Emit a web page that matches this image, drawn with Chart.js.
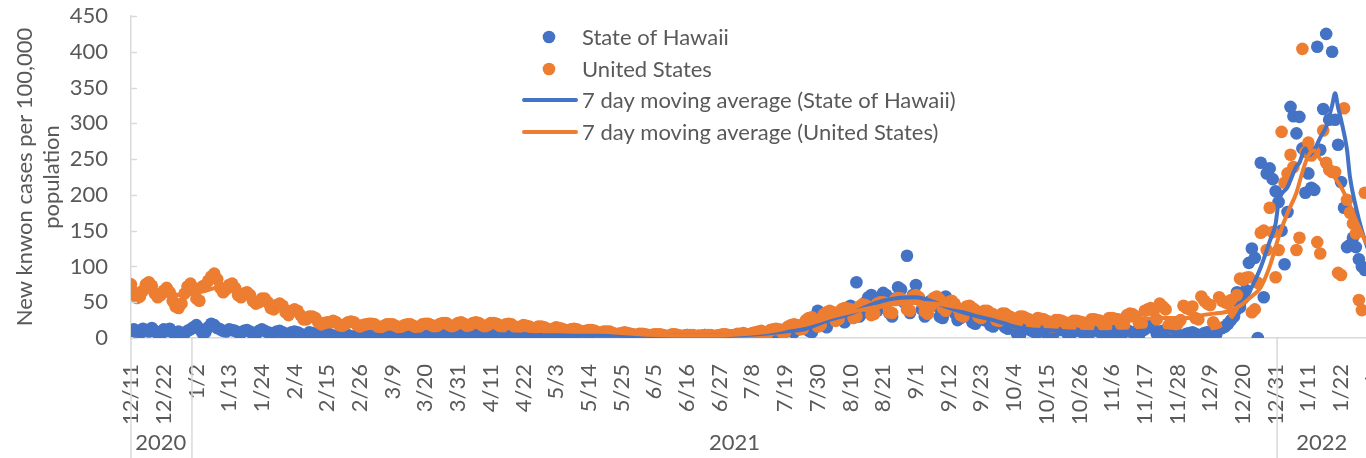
<!DOCTYPE html>
<html>
<head>
<meta charset="utf-8">
<script src="https://cdn.jsdelivr.net/npm/chart.js@4.4.0/dist/chart.umd.min.js"></script>
<style>
  html, body { margin: 0; padding: 0; background: #fff; overflow: hidden; }
  #wrap { position: relative; width: 1386px; height: 458px; }
</style>
</head>
<body>
<div id="wrap"><canvas id="casesChart"></canvas></div>
<script>
/* ── data: day 0 = 12/11/2020, one value per day ── */
const startDate = '2020-12-11';

const hawaiiDaily = [
  10, 12, 8, 6, 13, 11, 9, 14, 10, 6, 5,
  12, 10, 13, 8, 6, 9, 5, 6, 10, 12, 15,
  18, 13, 7, 8, 15, 20, 18, 14, 12, 10, 9,
  12, 11, 10, 8, 7, 10, 11, 9, 6, 5, 10,
  12, 10, 8, 7, 5, 9, 10, 8, 6, 4, 8,
  9, 8, 6, 3, 4, 8, 7, 6, 3, 2, 5,
  6, 5, 3, 2, 4, 5, 5, 4, 2, 2, 4,
  5, 5, 4, 3, 3, 5, 5, 4, 3, 2, 4,
  5, 5, 4, 3, 3, 5, 5, 5, 3, 2, 4,
  6, 6, 5, 4, 4, 6, 7, 6, 4, 3, 6,
  7, 6, 5, 4, 4, 6, 7, 6, 4, 3, 6,
  6, 6, 5, 3, 4, 6, 6, 5, 3, 3, 5,
  5, 6, 4, 3, 3, 5, 5, 4, 3, 2, 4,
  5, 4, 3, 2, 3, 4, 4, 4, 2, 2, 3,
  4, 4, 3, 2, 2, 3, 4, 3, 2, 1, 3,
  3, 3, 2, 1, 2, 3, 3, 3, 2, 1, 3,
  3, 3, 2, 2, 2, 3, 4, 3, 2, 2, 3,
  4, 3, 2, 2, 3, 3, 4, 3, 2, 2, 3,
  3, 4, 2, 2, 3, 4, 5, 4, 3, 3, 5,
  6, 6, 4, 4, 7, 8, 9, 8, 5, 5, 10,
  12, 13, 10, 8, 15, 17, 18, 16, 10, 8, 20,
  38, 30, 20, 15, 28, 30, 35, 33, 25, 22, 38,
  45, 40, 78, 30, 35, 50, 57, 60, 45, 38, 55,
  63, 60, 35, 30, 55, 71, 68, 50, 115, 35, 60,
  74, 55, 40, 30, 45, 52, 50, 45, 30, 28, 58,
  45, 50, 35, 25, 28, 38, 40, 35, 22, 20, 30,
  28, 25, 30, 18, 16, 22, 25, 20, 15, 13, 18,
  18, 6, 4, 15, 14, 12, 10, 8, 8, 10, 11,
  6, 3, 3, 12, 11, 12, 10, 6, 5, 9, 11,
  10, 8, 5, 3, 10, 12, 10, 8, 5, 4, 9,
  10, 8, 6, 3, 10, 11, 9, 8, 4, 3, 10,
  12, 16, 18, 14, 6, 4, 10, 8, 2, 3, 5,
  5, 3, 2, 6, 7, 8, 6, 4, 3, 7, 8,
  9, 6, 5, 12, 14, 16, 20, 25, 30, 64, 43,
  55, 67, 105, 125, 112, 0, 245, 57, 230, 237, 222,
  205, 190, 150, 103, 176, 323, 310, 286, 309, 265, 203,
  230, 210, 207, 407, 263, 320, 425, 305, 400, 305, 270,
  218, 182, 127, 130, 140, 127, 110, 100, 95
];

const usDaily = [
  75, 64, 56, 58, 66, 75, 78, 73, 62, 57, 60,
  66, 70, 64, 52, 44, 42, 48, 62, 72, 76, 70,
  55, 52, 72, 74, 80, 86, 90, 82, 70, 64, 68,
  74, 76, 70, 60, 57, 62, 64, 60, 52, 48, 50,
  55, 55, 50, 42, 40, 46, 48, 45, 36, 32, 38,
  40, 38, 32, 26, 26, 30, 30, 28, 22, 19, 21,
  22, 22, 24, 22, 18, 17, 19, 22, 23, 22, 18,
  16, 18, 19, 20, 20, 19, 16, 15, 17, 19, 19,
  19, 17, 15, 16, 18, 19, 19, 17, 15, 16, 19,
  20, 20, 18, 16, 17, 20, 21, 21, 18, 16, 18,
  21, 22, 20, 17, 18, 21, 22, 21, 18, 16, 18,
  21, 21, 20, 17, 16, 19, 20, 19, 16, 14, 16,
  18, 17, 16, 14, 13, 16, 16, 15, 13, 11, 13,
  15, 14, 13, 11, 10, 12, 13, 12, 10, 9, 10,
  11, 11, 10, 8, 7, 9, 9, 9, 7, 6, 6,
  7, 8, 7, 6, 5, 4, 6, 6, 5, 4, 4,
  5, 5, 5, 4, 3, 3, 5, 5, 4, 3, 3,
  4, 4, 4, 3, 3, 3, 4, 4, 4, 3, 3,
  4, 5, 5, 4, 3, 3, 6, 6, 7, 4, 4,
  7, 8, 9, 10, 6, 6, 11, 12, 13, 12, 8,
  8, 16, 18, 19, 18, 12, 13, 25, 28, 29, 26,
  16, 18, 33, 36, 38, 36, 24, 26, 40, 42, 41,
  40, 28, 30, 44, 47, 46, 44, 32, 34, 48, 50,
  50, 48, 36, 35, 54, 56, 55, 52, 40, 38, 58,
  60, 57, 50, 37, 34, 45, 56, 58, 54, 42, 38,
  50, 52, 48, 42, 32, 30, 44, 45, 42, 39, 30,
  28, 38, 38, 35, 33, 25, 24, 34, 34, 31, 29,
  22, 21, 30, 30, 28, 26, 20, 19, 28, 27, 26,
  24, 17, 16, 25, 25, 24, 22, 17, 16, 24, 24,
  23, 22, 17, 16, 26, 26, 25, 24, 18, 16, 28,
  28, 27, 26, 19, 18, 32, 34, 33, 30, 21, 20,
  38, 40, 42, 38, 26, 48, 44, 40, 18, 14, 22,
  20, 25, 45, 42, 40, 44, 28, 26, 58, 52, 48,
  46, 22, 16, 57, 52, 50, 48, 53, 35, 60, 83,
  81, 84, 85, 36, 40, 77, 147, 150, 123, 182, 148,
  85, 123, 288, 217, 230, 256, 239, 123, 140, 404, 260,
  273, 255, 260, 134, 118, 290, 245, 235, 232, 232, 91,
  88, 321, 193, 175, 160, 146, 53, 39, 203
];

// 7 day moving averages at these days
const maHawaiiDays = [3, 10, 17, 24, 31, 38, 45, 52, 59, 66, 73, 80, 87, 94, 101, 108, 115, 122, 129, 136,
  143, 150, 157, 164, 171, 178, 185, 192, 199, 206, 213, 220, 227, 234, 242, 248, 253, 258, 264, 269,
  274, 279, 284, 289, 294, 298, 303, 309, 316, 326, 336, 343, 349, 354, 360, 364, 366, 368, 370, 372,
  374, 376, 378, 380, 383, 385, 386, 389, 392, 393, 395, 396, 398, 400, 402, 404, 405, 406, 407, 409,
  410, 412, 414, 416, 418];
const maHawaii = [10, 9, 9, 12, 14, 10, 9, 8, 6, 4, 4, 4, 4, 4, 5, 5, 5, 5, 5, 4,
  4, 3, 3, 3, 2, 3, 3, 3, 3, 4, 6, 9, 13, 24, 34, 45, 52, 56, 57, 52,
  44, 37, 31, 26, 20, 15, 12, 11, 9, 8, 9, 11, 9, 7, 6, 8, 10, 14, 20, 30,
  45, 63, 80, 99, 135, 160, 190, 211, 240, 245, 265, 255, 263, 280, 295, 325, 342, 322, 305, 263,
  225, 183, 150, 125, 105];

const maUSDays = [3, 10, 17, 24, 31, 38, 45, 52, 59, 66, 73, 80, 90, 100, 110, 120, 130, 137, 144, 151,
  158, 165, 172, 180, 190, 200, 208, 215, 222, 229, 236, 243, 250, 257, 264, 271, 278, 285, 292, 299,
  306, 313, 320, 327, 334, 341, 348, 355, 362, 366, 369, 373, 376, 380, 383, 386, 389, 392, 394, 396,
  398, 400, 403, 407, 410, 412, 415, 418];
const maUS = [65, 64, 60, 65, 72, 62, 50, 40, 30, 23, 20, 18, 17, 18, 19, 20, 19, 16, 13, 11,
  9, 7, 5, 4, 3.5, 4, 6, 9, 15, 21, 30, 37, 43, 47, 49, 48, 43, 38, 32, 27,
  24, 21, 20, 21, 23, 27, 28, 28, 33, 35, 37, 45, 55, 71, 100, 141, 175, 203, 232, 255,
  262, 250, 235, 211, 185, 165, 137, 115];

// x axis: a label every 11 days, years underneath
const tickStep = 11;
const tickLabels = ['12/11', '12/22', '1/2', '1/13', '1/24', '2/4', '2/15', '2/26', '3/9', '3/20', '3/31',
  '4/11', '4/22', '5/3', '5/14', '5/25', '6/5', '6/16', '6/27', '7/8', '7/19', '7/30', '8/10', '8/21',
  '9/1', '9/12', '9/23', '10/4', '10/15', '10/26', '11/6', '11/17', '11/28', '12/9', '12/20', '12/31',
  '1/11', '1/22', '2/2'];
const yearLabels = ['2020', '2021', '2022'];
const yearStarts = ['2020-12-11', '2021-01-01', '2022-01-01'];

const seriesNames = ['State of Hawaii', 'United States',
  '7 day moving average (State of Hawaii)', '7 day moving average (United States)'];

/* ── style ── */
const BLUE = '#4472C4', ORANGE = '#ED7D31', TEXT = '#595959', AXIS = '#D9D9D9';
const FONT = 'Lato';
Chart.defaults.font.family = FONT;
Chart.defaults.color = TEXT;

const dayOf = iso => Math.round((Date.parse(iso) - Date.parse(startDate)) / 86400000);
const toPts = (vals, days) => vals.map((v, i) => ({ x: days ? days[i] : i, y: v }));

// years, year separators, inner y ticks, legend
const decorPlugin = {
    id: 'decor',
    afterDraw(chart) {
        const { ctx, chartArea, scales: { x, y } } = chart;
        const lastDay = usDaily.length - 1;
        const starts = yearStarts.map(dayOf);
        ctx.save();
        ctx.strokeStyle = AXIS; ctx.lineWidth = 1.5;
        // inner tick marks on the value axis
        y.ticks.forEach(t => {
            const py = Math.round(y.getPixelForValue(t.value)) + 0.5;
            ctx.beginPath(); ctx.moveTo(chartArea.left - 1, py); ctx.lineTo(chartArea.left + 6, py); ctx.stroke();
        });
        // year separators and labels under the dates
        ctx.font = `22px ${FONT}`; ctx.fillStyle = TEXT;
        ctx.textAlign = 'center'; ctx.textBaseline = 'middle';
        starts.forEach((s, i) => {
            const b = i === 0 ? 0 : s - 0.5;
            const px = x.getPixelForValue(b);
            ctx.beginPath(); ctx.moveTo(px, chartArea.bottom); ctx.lineTo(px, chart.height); ctx.stroke();
            const end = i < starts.length - 1 ? starts[i + 1] - 1 : lastDay;
            ctx.fillText(yearLabels[i], x.getPixelForValue((s + end) / 2), 443);
        });
        // legend inside the plot
        const lx = 549, tx = 582, rows = [37, 69, 100, 132];
        const cols = [BLUE, ORANGE, BLUE, ORANGE];
        ctx.textAlign = 'left';
        seriesNames.forEach((name, i) => {
            ctx.fillStyle = cols[i]; ctx.strokeStyle = cols[i];
            if (i < 2) {
                ctx.beginPath(); ctx.arc(lx, rows[i], 6.3, 0, Math.PI * 2); ctx.fill();
            } else {
                ctx.lineWidth = 4; ctx.lineCap = 'round';
                ctx.beginPath(); ctx.moveTo(524, rows[i]); ctx.lineTo(576, rows[i]); ctx.stroke();
            }
            ctx.fillStyle = TEXT;
            ctx.fillText(name, tx, rows[i] + 1);
        });
        ctx.restore();
    }
};

new Chart(document.getElementById('casesChart').getContext('2d'), {
    type: 'scatter',
    data: {
        datasets: [
            { label: seriesNames[0], data: toPts(hawaiiDaily), order: 3,
              backgroundColor: BLUE, borderColor: BLUE, pointRadius: 6.3, pointBorderWidth: 0 },
            { label: seriesNames[1], data: toPts(usDaily), order: 2,
              backgroundColor: ORANGE, borderColor: ORANGE, pointRadius: 6.3, pointBorderWidth: 0 },
            { label: seriesNames[2], data: toPts(maHawaii, maHawaiiDays), order: 1, showLine: true,
              borderColor: BLUE, borderWidth: 4, pointRadius: 0, cubicInterpolationMode: 'monotone' },
            { label: seriesNames[3], data: toPts(maUS, maUSDays), order: 0, showLine: true,
              borderColor: ORANGE, borderWidth: 4, pointRadius: 0, cubicInterpolationMode: 'monotone' }
        ]
    },
    options: {
        responsive: true, maintainAspectRatio: false, animation: false,
        layout: { padding: { top: 16, right: 0, bottom: 0, left: 0 } },
        plugins: { legend: { display: false }, tooltip: { enabled: false } },
        scales: {
            x: {
                type: 'linear', min: 0, max: 420,
                grid: { display: false },
                border: { color: AXIS, width: 1.5 },
                afterBuildTicks: s => { s.ticks = tickLabels.map((_, i) => ({ value: i * tickStep })); },
                afterFit: s => { s.height = 120; s.paddingLeft = 0; s.paddingRight = 0; },
                ticks: {
                    autoSkip: false, minRotation: 90, maxRotation: 90, padding: 18,
                    font: { size: 22 }, color: TEXT,
                    callback: v => tickLabels[Math.round(v / tickStep)]
                }
            },
            y: {
                min: 0, max: 450,
                grid: { display: false },
                border: { color: AXIS, width: 1.5 },
                afterFit: s => { s.width = 131; s.paddingTop = 0; s.paddingBottom = 0; },
                ticks: { stepSize: 50, padding: 15, font: { size: 22 }, color: TEXT },
                title: {
                    display: true, text: ['New knwon cases per 100,000', 'population'],
                    font: { size: 22, lineHeight: '27px' }, color: TEXT, padding: { top: 11, bottom: 0 }
                }
            }
        }
    },
    plugins: [decorPlugin]
});
</script>
</body>
</html>
